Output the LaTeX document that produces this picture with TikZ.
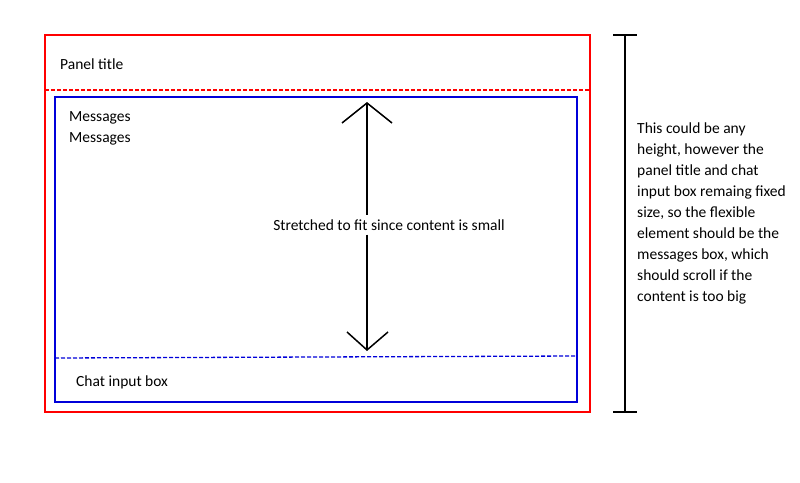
\documentclass[tikz,border=0pt]{standalone}
\usepackage{fontspec}
\setmainfont{Carlito}
\begin{document}
\begin{tikzpicture}[x=1pt,y=-1pt,
  txt/.style={font=\fontsize{15.5}{21}\selectfont, anchor=west, inner sep=0},
  redc/.style={draw=red, line width=1.3pt},
  bluec/.style={draw=blue!85!black, line width=1.3pt},
  dsh/.style={dash pattern=on 4pt off 2pt},
  blk/.style={draw=black, line width=1.5pt}]
\useasboundingbox (0,0) rectangle (800,482);
\draw[redc] (45,35) rectangle (590,412);
\draw[redc, dsh] (45,90) -- (590,90);
\draw[bluec] (55,97) rectangle (577,402);
\draw[bluec, dsh] (55,358) -- (577,356);
\node[txt] (pt) at (60,64) {Panel title};
\node[txt, align=left] (msg) at (69,128) {Messages\\Messages};
\node[txt] (chat) at (76,382) {Chat input box};
\coordinate (top) at (367,103);
\coordinate (bot) at (367,350);
\node[txt, anchor=center, fill=white, inner sep=4pt] (st) at (389,225) {Stretched to fit since content is small};
\draw[blk] (top) -- (top |- st.north);
\draw[blk] (bot |- st.south) -- (bot);
\draw[blk] (342,123) -- (top) -- (392,123);
\draw[blk] (347,332) -- (bot) -- (388,332);
\coordinate (st1) at (625,35);
\coordinate (st2) at (625,412);
\draw[blk] (st1) -- (st2);
\draw[blk] (613,35) -- (637,35);
\draw[blk] (613,412) -- (637,412);
\node[txt, anchor=north west, align=left] (note) at (637,123) {This could be any\\height, however the\\panel title and chat\\input box remaing fixed\\size, so the flexible\\element should be the\\messages box, which\\should scroll if the\\content is too big};
\end{tikzpicture}
\end{document}
